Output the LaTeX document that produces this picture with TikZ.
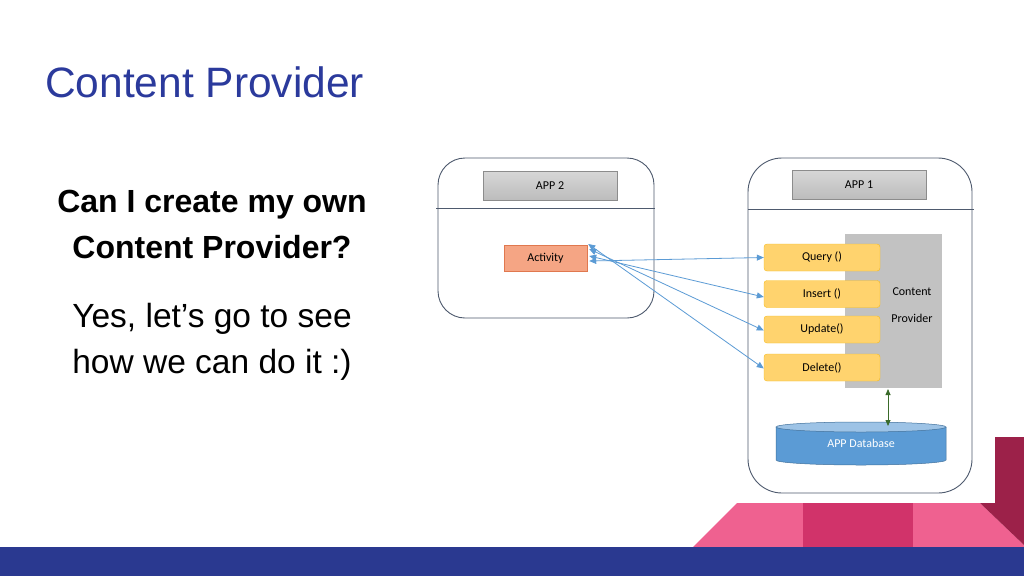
\documentclass[tikz,border=0pt]{standalone}
\usepackage{fontspec}
\setmainfont{Liberation Sans}
\newfontfamily\calib{Carlito}
\usetikzlibrary{arrows.meta}
\definecolor{titleblue}{HTML}{2B3A9C}
\definecolor{bandblue}{HTML}{2A3990}
\definecolor{pinkA}{HTML}{EF6190}
\definecolor{pinkB}{HTML}{D1336A}
\definecolor{maroon}{HTML}{9C2149}
\definecolor{frame}{HTML}{4E5A6E}
\definecolor{labgray}{HTML}{C6C6C6}
\definecolor{labedge}{HTML}{8C8C8C}
\definecolor{salmon}{HTML}{F5A584}
\definecolor{salmonedge}{HTML}{E0784F}
\definecolor{methfill}{HTML}{FFD36E}
\definecolor{methedge}{HTML}{F7BC1E}
\definecolor{cpgray}{HTML}{C2C2C2}
\definecolor{arrowblue}{HTML}{5B9BD5}
\definecolor{dbfill}{HTML}{5B9BD5}
\definecolor{dbtop}{HTML}{9DC3E6}
\definecolor{dbedge}{HTML}{41719C}
\definecolor{green}{HTML}{3A6B2A}
\tikzset{
  appframe/.style={draw=frame, line width=0.9pt},
  applabel/.style={draw=labedge, top color=labgray!70, bottom color=labgray!95!black, minimum width=134pt, minimum height=29pt, inner sep=0pt, font=\calib\fontsize{12}{14}\selectfont},
  activity/.style={draw=salmonedge, fill=salmon, minimum width=83pt, minimum height=26pt, inner sep=0pt, font=\calib\fontsize{12}{14}\selectfont},
  method/.style={draw=methedge, fill=methfill, rounded corners=3pt, minimum width=116pt, minimum height=27pt, inner sep=0pt, font=\calib\fontsize{12}{14}\selectfont},
  link/.style={draw=arrowblue, line width=0.8pt, {Triangle[length=7pt,width=6pt]}-{Triangle[length=7pt,width=6pt]}},
}
\begin{document}
\begin{tikzpicture}[x=1pt,y=-1pt]
\useasboundingbox (0,0) rectangle (1024,576);
\fill[white] (0,0) rectangle (1024,576);
% title
\node[anchor=base west, inner sep=0pt, text=titleblue, font=\fontsize{42.5}{50}\selectfont] (title) at (45,97) {Content Provider};
% left text
\node[anchor=base, inner sep=0pt, font=\bfseries\fontsize{32}{38}\selectfont] (q1) at (212,212) {Can I create my own};
\node[anchor=base, inner sep=0pt, font=\bfseries\fontsize{32}{38}\selectfont] (q2) at (212,258) {Content Provider?};
\node[anchor=base, inner sep=0pt, font=\fontsize{33.5}{40}\selectfont] (a1) at (212,327) {Yes, let’s go to see};
\node[anchor=base, inner sep=0pt, font=\fontsize{33.5}{40}\selectfont] (a2) at (212,373) {how we can do it :)};
% bottom decoration
\fill[pinkA] (693,547) -- (737,503) -- (804,503) -- (804,547) -- cycle;
\fill[pinkB] (803,503) rectangle (914,547);
\fill[pinkA] (913,503) -- (980,503) -- (1024,545) -- (1024,547) -- (913,547) -- cycle;
\fill[maroon] (995,437) -- (1024,437) -- (1024,545) -- (980,503) -- (995,503) -- cycle;
\fill[bandblue] (0,547) rectangle (1024,576);
% APP 2 frame
\draw[appframe, rounded corners=27pt] (438,158) rectangle (654,318);
\draw[appframe, line width=0.7pt] (436,208) -- (655,208);
\node[applabel] (app2) at (550,185.5) {APP 2};
\node[activity] (act) at (545.5,258) {Activity};
% APP 1 frame
\draw[appframe, rounded corners=34pt] (748,158) rectangle (972,493);
\draw[appframe, line width=0.7pt] (748,209) -- (974,209);
\node[applabel] (app1) at (859,184.5) {APP 1};
\node[draw=none, fill=cpgray, minimum width=97pt, minimum height=154pt, inner sep=0pt] (cp) at (893.5,311) {};
\node[font=\calib\fontsize{12}{14}\selectfont, inner sep=0pt] (cpt1) at (912,292) {Content};
\node[font=\calib\fontsize{12}{14}\selectfont, inner sep=0pt] (cpt2) at (912,318) {Provider};
\node[method] (query) at (822,257.5) {Query ()};
\node[method] (insert) at (822,294) {Insert ()};
\node[method] (update) at (822,329.5) {Update()};
\node[method] (delete) at (822,367.5) {Delete()};
% database cylinder
\fill[dbfill] (776,427) -- (776,460) arc[start angle=180, end angle=360, x radius=85pt, y radius=5pt] -- (946,427) -- cycle;
\draw[dbedge, line width=0.5pt] (776,427) -- (776,460) arc[start angle=180, end angle=360, x radius=85pt, y radius=5pt] -- (946,427);
\draw[dbedge, fill=dbtop, line width=0.5pt] (861,427) ellipse[x radius=85pt, y radius=5pt];
\node[text=white, font=\calib\fontsize{12}{14}\selectfont, inner sep=0pt] (db) at (861,443) {APP Database};
\coordinate (dbtopc) at (888,426);
\coordinate (cpbot) at (888,389);
\draw[green, line width=0.8pt, {Triangle[length=6pt,width=5pt]}-{Triangle[length=6pt,width=5pt]}] (cpbot) -- (dbtopc);
% links
\draw[link] ([xshift=2pt,yshift=-3pt]act.east) -- (query.west);
\draw[link] ([xshift=2pt,yshift=2pt]act.east) -- ([yshift=-3pt]insert.west);
\draw[link] ([xshift=2pt,yshift=9pt]act.east) -- ([yshift=-1pt]update.west);
\draw[link] ([xshift=1pt,yshift=14pt]act.east) -- ([yshift=-1pt]delete.west);
\end{tikzpicture}
\end{document}
